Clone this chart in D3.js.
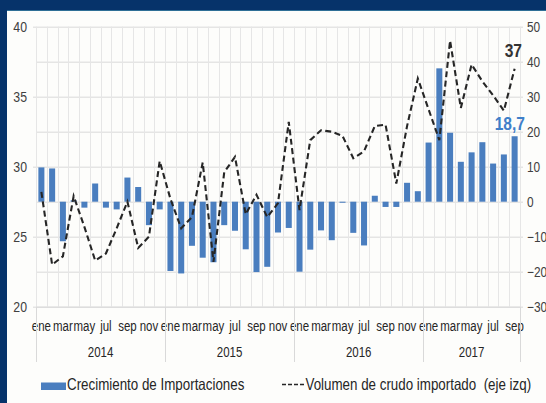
<!DOCTYPE html>
<html>
<head>
<meta charset="utf-8">
<script src="https://cdn.jsdelivr.net/npm/d3@7"></script>
<style>
  html, body { margin: 0; padding: 0; background: #ffffff; }
  svg text { font-family: 'Liberation Sans', Arial, sans-serif; }
</style>
</head>
<body>
<div id="d3-container"></div>
<script>
// meses ene 2014 - sep 2017
const meses = ['ene','feb','mar','abr','may','jun','jul','ago','sep','oct','nov','dic'];
const anios = ['2014', '2015', '2016', '2017'];
const mesesPorAnio = [12, 12, 12, 9];

// Crecimiento de Importaciones (%), eje derecho
const crecimiento = [
  9.8, 9.5, -11.3, 0.4, -1.7, 5.2, -1.7, -2.2, 6.9, 4.2, -6.7, -2.2,
  -19.8, -20.5, -12.6, -16.0, -17.3, -6.7, -8.3, -13.6, -20.1, -18.6, -8.8, -7.5,
  -20.0, -13.7, -8.2, -11.0, -0.3, -8.9, -12.5, 1.7, -1.5, -1.5, 5.4, 3.0,
  16.9, 38.1, 19.7, 11.4, 14.1, 17.0, 10.9, 13.5, 18.7
];

// Volumen de crudo importado, eje izquierdo
const volumen = [
  28.2, 23.0, 23.6, 27.9, 25.7, 23.3, 23.8, 25.6, 27.5, 24.2, 25.0, 30.4,
  27.7, 25.6, 26.4, 30.3, 23.2, 29.6, 30.7, 26.6, 28.0, 26.4, 27.4, 33.2,
  26.9, 31.9, 32.6, 32.5, 32.2, 30.6, 31.1, 32.9, 33.0, 28.8, 32.9, 36.3,
  34.1, 31.9, 39.0, 34.2, 37.3, 36.1, 35.1, 34.0, 37.0
];

const ticksIzq = [20, 25, 30, 35, 40];
const ticksDer = [-30, -20, -10, 0, 10, 20, 30, 40, 50];

const width = 546;
const height = 403;
const margin = { top: 26.7, bottom: 96.3, left: 36, right: 26 };

const barColor = '#4a7ebf';
const gridColor = '#d9d9d9';
const SX = 0.82; // la fuente del original es estrecha (Arial Narrow)

const svg = d3.select('#d3-container')
  .append('svg')
  .attr('width', width)
  .attr('height', height)
  .attr('viewBox', [0, 0, width, height]);

// marco azul
svg.append('rect').attr('width', width).attr('height', height).attr('fill', '#06336a');
svg.append('rect').attr('x', 7).attr('y', 10).attr('width', width - 7).attr('height', height - 10).attr('fill', '#fdfdfb');
svg.append('line').attr('x1', 7).attr('x2', width).attr('y1', 10.5).attr('y2', 10.5).attr('stroke', '#2f6f96').attr('stroke-width', 1);

const idx = d3.range(volumen.length);
const x = d3.scaleBand()
  .domain(idx)
  .range([margin.left, width - margin.right]);
const xBar = d3.scaleBand()
  .domain(idx)
  .range([margin.left, width - margin.right])
  .paddingInner(0.44)
  .paddingOuter(0.22);

const yL = d3.scaleLinear().domain([20, 40]).range([height - margin.bottom, margin.top]);
const yR = d3.scaleLinear().domain([-30, 50]).range([height - margin.bottom, margin.top]);

const plotW = width - margin.left - margin.right;

// texto estrecho en (x, y)
function narrowText(g, px, py) {
  return g.append('text').attr('transform', `translate(${px},${py}) scale(${SX},1)`);
}

// rejilla horizontal
svg.append('g')
  .attr('transform', `translate(${margin.left},0)`)
  .call(d3.axisRight(yR).tickValues(ticksDer).tickSize(plotW + 3).tickFormat(''))
  .call(g => g.select('.domain').remove())
  .call(g => g.selectAll('line').attr('stroke', gridColor));

// rejilla vertical
const xEdge = i => i < volumen.length ? x(i) : x.range()[1];
svg.append('g')
  .selectAll('line')
  .data(idx.concat([volumen.length]))
  .join('line')
  .attr('x1', i => Math.round(xEdge(i)) + 0.5)
  .attr('x2', i => Math.round(xEdge(i)) + 0.5)
  .attr('y1', margin.top)
  .attr('y2', height - margin.bottom)
  .attr('stroke', '#e6e6e6');

// barras
svg.append('g')
  .attr('fill', barColor)
  .selectAll('rect')
  .data(crecimiento)
  .join('rect')
  .attr('x', (d, i) => xBar(i))
  .attr('y', d => yR(Math.max(0, d)))
  .attr('width', xBar.bandwidth())
  .attr('height', d => Math.max(0.8, Math.abs(yR(d) - yR(0))));

// linea de volumen
const line = d3.line()
  .x((d, i) => x(i) + x.bandwidth() / 2)
  .y(d => yL(d));

svg.append('path')
  .datum(volumen)
  .attr('fill', 'none')
  .attr('stroke', '#262626')
  .attr('stroke-width', 2.1)
  .attr('stroke-dasharray', '6,3.5')
  .attr('d', line);

function yAxisLeft(g) {
  g.attr('transform', `translate(${margin.left},0)`)
    .call(d3.axisLeft(yL).tickValues(ticksIzq).tickSize(3).tickPadding(6))
    .call(g => g.select('.domain').remove())
    .call(g => g.selectAll('line').attr('stroke', gridColor))
    .call(g => g.selectAll('text').attr('fill', '#404040').attr('font-size', '15px')
      .attr('x', -9 / SX).attr('transform', `scale(${SX},1)`));
}

function yAxisRight(g) {
  g.attr('transform', `translate(${width - margin.right},0)`)
    .call(d3.axisRight(yR).tickValues(ticksDer).tickSize(0).tickPadding(7))
    .call(g => g.select('.domain').remove())
    .call(g => g.selectAll('text').attr('fill', '#404040').attr('font-size', '14.5px')
      .attr('x', 7 / SX).attr('transform', `scale(${SX},1)`));
}

function xAxis(g) {
  g.attr('transform', `translate(0,${height - margin.bottom})`)
    .call(d3.axisBottom(x).tickSize(0).tickPadding(14)
      .tickValues(idx.filter(i => i % 2 === 0))
      .tickFormat(i => meses[i % 12]))
    .call(g => g.select('.domain').attr('stroke', gridColor))
    .call(g => g.selectAll('text').attr('fill', '#262626').attr('font-size', '14px')
      .attr('transform', `scale(${SX},1)`));
}

svg.append('g').call(yAxisLeft);
svg.append('g').call(yAxisRight);
svg.append('g').call(xAxis);

// separadores de anio y etiquetas
let acumulado = [0];
mesesPorAnio.forEach(n => acumulado.push(acumulado[acumulado.length - 1] + n));

svg.append('g')
  .selectAll('line')
  .data(acumulado)
  .join('line')
  .attr('x1', i => Math.round(xEdge(i)) + 0.5)
  .attr('x2', i => Math.round(xEdge(i)) + 0.5)
  .attr('y1', height - margin.bottom)
  .attr('y2', 362)
  .attr('stroke', gridColor);

const gAnios = svg.append('g');
anios.forEach((a, k) => {
  narrowText(gAnios, (xEdge(acumulado[k]) + xEdge(acumulado[k + 1])) / 2, 357)
    .attr('text-anchor', 'middle')
    .attr('font-size', '14px')
    .attr('fill', '#262626')
    .text(a);
});

// etiquetas de valor final
const ult = volumen.length - 1;
narrowText(svg, 522, 57)
  .attr('text-anchor', 'end')
  .attr('font-size', '19px')
  .attr('font-weight', 'bold')
  .attr('fill', '#333333')
  .text(d3.format('.0f')(volumen[ult]));

narrowText(svg, 525, 130)
  .attr('text-anchor', 'end')
  .attr('font-size', '19px')
  .attr('font-weight', 'bold')
  .attr('fill', '#3f7fc9')
  .text(String(crecimiento[ult]).replace('.', ','));

// leyenda
svg.append('rect')
  .attr('x', 41).attr('y', 382.5).attr('width', 25).attr('height', 7.5)
  .attr('fill', barColor);
narrowText(svg, 67, 390)
  .attr('font-size', '16.3px')
  .attr('fill', '#262626')
  .text('Crecimiento de Importaciones');

svg.append('line')
  .attr('x1', 282).attr('x2', 305).attr('y1', 384.5).attr('y2', 384.5)
  .attr('stroke', '#262626').attr('stroke-width', 1.6)
  .attr('stroke-dasharray', '4,2');
narrowText(svg, 305.5, 390)
  .attr('font-size', '16.3px')
  .attr('fill', '#262626')
  .style('white-space', 'pre')
  .text('Volumen de crudo importado  (eje izq)');
</script>
</body>
</html>
